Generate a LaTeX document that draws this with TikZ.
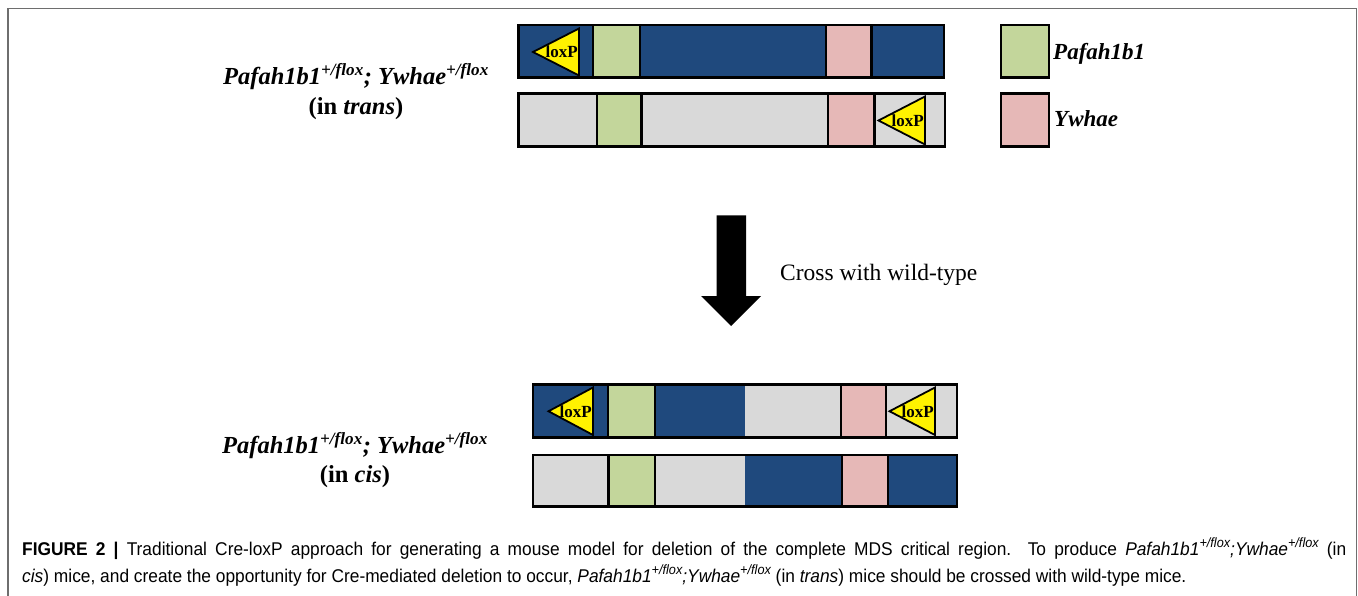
\documentclass[tikz,border=0pt]{standalone}
\usepackage{fontspec}
\setmainfont{Liberation Serif}
\newfontfamily\capfont[FakeStretch=0.94]{Liberation Sans}
\definecolor{chrblue}{RGB}{31,73,125}
\definecolor{chrgray}{RGB}{217,217,217}
\definecolor{genegreen}{RGB}{195,214,155}
\definecolor{genepink}{RGB}{230,184,183}
\definecolor{framegray}{RGB}{110,110,110}
\tikzset{
  outline/.style={draw=black, line width=2.7pt},
  sepline/.style={draw=black, line width=2.4pt},
  loxp/.style={fill=yellow, draw=black, line width=1.8pt, line join=miter},
  loxtext/.style={inner sep=0pt, font=\fontsize{17}{17}\selectfont\bfseries},
  genotype/.style={align=center, inner sep=0pt, font=\fontsize{24.5}{30}\selectfont\bfseries},
  legendtext/.style={inner sep=0pt, anchor=base west, font=\fontsize{23}{23}\selectfont\bfseries\itshape},
  captext/.style={inner sep=0pt, anchor=base west, font=\fontsize{18.45}{18.45}\capfont},
}
% caption superscript
\newcommand{\capsup}[1]{\raisebox{0.42em}{\fontsize{13.5}{13.5}\selectfont #1}}
% a gene block with black borders on both sides
\newcommand{\geneblock}[5]{% color, x0, x1, y0, y1
  \fill[#1] (#2,#4) rectangle (#3,#5);
  \draw[sepline] (#2,#4) -- (#2,#5);
  \draw[sepline] (#3,#4) -- (#3,#5);
}
% a loxP site: triangle pointing left with its label
\newcommand{\loxsite}[5]{% name, tip x, right x, y top, y bottom
  \filldraw[loxp] (#2,{(#4+#5)/2}) -- (#3,#4) -- (#3,#5) -- cycle;
  \node[loxtext, anchor=base east] (#1) at ({#3-1},{(#4+#5)/2+6}) {loxP};
}
\begin{document}
\begin{tikzpicture}[x=1pt, y=-1pt]
\useasboundingbox (0,0) rectangle (1358,596);

% panel frame, open at the bottom
\draw[framegray, line width=1.6pt] (8,596) -- (8,8.5) -- (1356.5,8.5) -- (1356.5,596);

% ---------- chromosomes in trans ----------
% chromosome 1
\fill[chrblue] (518.5,25) rectangle (944,77.5);
\geneblock{genegreen}{593}{640}{25}{77.5}
\geneblock{genepink}{826}{871.5}{25}{77.5}
\loxsite{loxA}{533}{579}{28.5}{75.5}
\draw[outline] (518.5,25) rectangle (944,77.5);
% chromosome 2
\fill[chrgray] (518.5,93.5) rectangle (945,146.5);
\geneblock{genegreen}{597}{641.5}{93.5}{146.5}
\geneblock{genepink}{828}{874.5}{93.5}{146.5}
\loxsite{loxB}{878.5}{925}{96.5}{144.5}
\draw[outline] (518.5,93.5) rectangle (945,146.5);

% ---------- chromosomes in cis ----------
% chromosome 1
\fill[chrblue] (533,384.5) rectangle (744.5,437.5);
\fill[chrgray] (744.5,384.5) rectangle (957,437.5);
\geneblock{genegreen}{608}{655}{384.5}{437.5}
\geneblock{genepink}{841}{886}{384.5}{437.5}
\loxsite{loxC}{548.5}{593}{387.5}{435}
\loxsite{loxD}{889.5}{935}{387.5}{435}
\draw[outline] (533,384.5) rectangle (957,437.5);
% chromosome 2
\fill[chrgray] (533,455) rectangle (745,506.5);
\fill[chrblue] (745,455) rectangle (957,506.5);
\geneblock{genegreen}{608.5}{655}{455}{506.5}
\geneblock{genepink}{842}{888}{455}{506.5}
\draw[outline] (533,455) rectangle (957,506.5);

% ---------- legend ----------
\filldraw[genegreen, draw=black, line width=2.7pt] (1001,25) rectangle (1049,77.5);
\filldraw[genepink, draw=black, line width=2.7pt] (1001,93.5) rectangle (1049,146.5);
\node[legendtext] (legPaf) at (1053,59.5) {Pafah1b1};
\node[legendtext] (legYw) at (1054,127) {Ywhae};

% ---------- genotype labels ----------
\node[genotype, anchor=base] (transA) at (356,85) {\itshape Pafah1b1\textsuperscript{+/flox}; Ywhae\textsuperscript{+/flox}};
\node[genotype, anchor=base] (transB) at (356,115) {(in \textit{trans})};
\node[genotype, anchor=base] (cisA) at (355,453.5) {\itshape Pafah1b1\textsuperscript{+/flox}; Ywhae\textsuperscript{+/flox}};
\node[genotype, anchor=base] (cisB) at (355,482) {(in \textit{cis})};

% ---------- cross arrow ----------
\fill[black] (716.5,215.5) -- (746,215.5) -- (746,296) -- (761,296) -- (731.2,326)
  -- (701,296) -- (716.5,296) -- cycle;
\node[inner sep=0pt, anchor=base west, font=\fontsize{23.5}{23.5}\selectfont] (cross) at (780,280) {Cross with wild-type};

% ---------- caption (first line justified, second line ragged) ----------
\node[captext] (cap1) at (22,555) {\makebox[1324pt][s]{\textbf{FIGURE 2 |} Traditional Cre-loxP approach for generating a mouse model for deletion of the complete MDS critical region. To produce \textit{Pafah1b1\capsup{+/flox};Ywhae\capsup{+/flox}} (in}};
\node[captext] (cap2) at (22,582) {\textit{cis}) mice, and create the opportunity for Cre-mediated deletion to occur, \textit{Pafah1b1\capsup{+/flox};Ywhae\capsup{+/flox}} (in \textit{trans}) mice should be crossed with wild-type mice.};
\end{tikzpicture}
\end{document}
